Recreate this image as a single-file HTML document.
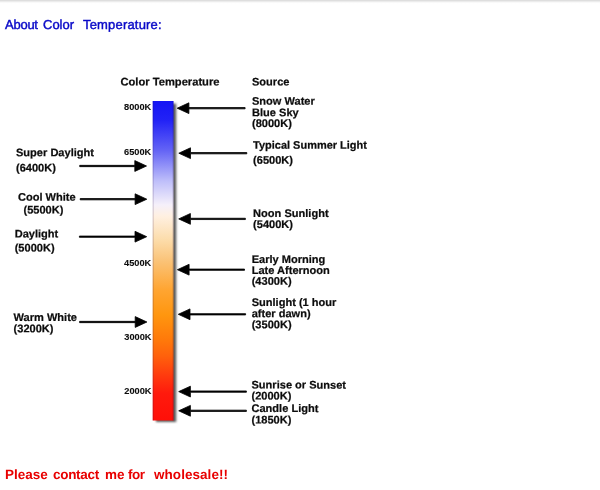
<!DOCTYPE html>
<html><head><meta charset="utf-8"><title>About Color Temperature</title>
<style>
html,body{margin:0;padding:0;background:#fff;}
body{width:600px;height:490px;position:relative;overflow:hidden;font-family:"Liberation Sans",Arial,sans-serif;}
.top{position:absolute;left:0;top:0;width:600px;height:4px;background:linear-gradient(#d9d9d9 0,#e2e2e2 0.9px,#f3f3f3 1.9px,#fcfcfc 2.8px,#fff 3.6px);}
.title span{position:absolute;top:16.5px;transform:matrix(1,0.0005,0,1,0,0);transform-origin:0 0;font-size:13px;line-height:15px;color:#0a0ac8;white-space:pre;-webkit-text-stroke:0.45px #0a0ac8;}
.bottom span{position:absolute;top:467.2px;transform:matrix(1,0.0005,0,1,0,0);transform-origin:0 0;font-size:13.5px;line-height:15px;color:#e80000;font-weight:bold;white-space:pre;}
svg{position:absolute;left:0;top:0;}
svg .sm text{stroke-width:0.1px;}
svg text{font-family:"Liberation Sans",Arial,sans-serif;font-weight:bold;fill:#0c0c0c;stroke:#0c0c0c;stroke-width:0.22px;}
</style></head><body>
<div class="top"></div>
<div class="title"><span style="left:4.5px;letter-spacing:-0.25px">About</span><span style="left:43px">Color</span><span style="left:83px;letter-spacing:0.18px">Temperature:</span></div>
<svg width="600" height="490" viewBox="0 0 600 490">
<defs>
<linearGradient id="g" x1="0" y1="0" x2="0" y2="1" gradientUnits="objectBoundingBox">
<stop offset="0" stop-color="#1414f5"/>
<stop offset="0.06" stop-color="#2222f6"/>
<stop offset="0.155" stop-color="#6464f5"/>
<stop offset="0.25" stop-color="#bebefa"/>
<stop offset="0.325" stop-color="#f5f0fa"/>
<stop offset="0.36" stop-color="#fff0e1"/>
<stop offset="0.435" stop-color="#fcdcaa"/>
<stop offset="0.50" stop-color="#fac378"/>
<stop offset="0.59" stop-color="#ffa532"/>
<stop offset="0.67" stop-color="#ff960f"/>
<stop offset="0.75" stop-color="#ff780a"/>
<stop offset="0.80" stop-color="#ff600c"/>
<stop offset="0.86" stop-color="#ff3a0e"/>
<stop offset="0.915" stop-color="#ff1a0d"/>
<stop offset="1" stop-color="#ff0f08"/>
</linearGradient>
<linearGradient id="sh" x1="0" y1="0" x2="1" y2="0">
<stop offset="0" stop-color="#5e5e5e"/><stop offset="0.38" stop-color="#6e6e6e"/><stop offset="0.62" stop-color="#b0b0b0"/><stop offset="0.82" stop-color="#e2e2e2"/><stop offset="1" stop-color="#ffffff"/>
</linearGradient>
<linearGradient id="shb" x1="0" y1="0" x2="0" y2="1">
<stop offset="0" stop-color="#4a4a4a"/><stop offset="0.45" stop-color="#8a8a8a"/><stop offset="1" stop-color="#f4f4f4"/>
</linearGradient>
<filter id="bl" x="-30%" y="-5%" width="160%" height="110%"><feGaussianBlur stdDeviation="0.9"/></filter>
</defs>
<rect x="156" y="103.6" width="20.2" height="318.4" fill="#5a5a5a" filter="url(#bl)"/>
<rect x="152.7" y="101" width="20.8" height="319.5" fill="url(#g)"/>
<rect x="152.7" y="101" width="0.9" height="319.5" fill="#200040" fill-opacity="0.22"/>
<rect x="172.6" y="101" width="0.9" height="319.5" fill="#200040" fill-opacity="0.22"/>
<g fill="#000" stroke="#000" stroke-width="0.8" stroke-linejoin="round">
<path d="M79.70 165.35H134.80V160.60L146.50 166L134.80 171.40V166.65H79.70Z"/>
<path d="M80.20 198.55H135.10V193.80L146.80 199.2L135.10 204.60V199.85H80.20Z"/>
<path d="M79.40 236.05H135.00V231.30L146.70 236.7L135.00 242.10V237.35H79.40Z"/>
<path d="M79.60 321.35H135.20V316.60L146.90 322L135.20 327.40V322.65H79.60Z"/>
<path d="M245.10 107.55H188.90V102.80L177.20 108.2L188.90 113.60V108.85H245.10Z"/>
<path d="M246.80 152.55H190.50V147.80L178.80 153.2L190.50 158.60V153.85H246.80Z"/>
<path d="M245.40 218.25H190.40V213.50L178.70 218.9L190.40 224.30V219.55H245.40Z"/>
<path d="M244.50 269.05H189.10V264.30L177.40 269.7L189.10 275.10V270.35H244.50Z"/>
<path d="M245.60 313.65H190.00V308.90L178.30 314.3L190.00 319.70V314.95H245.60Z"/>
<path d="M246.40 390.95H190.40V386.20L178.70 391.6L190.40 397.00V392.25H246.40Z"/>
<path d="M246.40 410.15H190.40V405.40L178.70 410.8L190.40 416.20V411.45H246.40Z"/>
</g>
<g transform="matrix(1 0.0005 0 1 0 0)">
<g font-size="11.05">
<text x="120.5" y="85.34" font-size="11.17">Color Temperature</text>
<text x="252" y="85.27">Source</text>
<text x="252" y="104.67">Snow Water</text>
<text x="252" y="116.17">Blue Sky</text>
<text x="252" y="126.77">(8000K)</text>
<text x="253.1" y="148.67" font-size="10.97">Typical Summer Light</text>
<text x="253.1" y="163.67">(6500K)</text>
<text x="253.1" y="216.87">Noon Sunlight</text>
<text x="253.1" y="227.87">(5400K)</text>
<text x="251.7" y="262.77">Early Morning</text>
<text x="251.7" y="273.77">Late Afternoon</text>
<text x="251.7" y="284.67">(4300K)</text>
<text x="251.7" y="305.87">Sunlight (1 hour</text>
<text x="251.7" y="317.17">after dawn)</text>
<text x="251.7" y="328.07">(3500K)</text>
<text x="251.5" y="388.47">Sunrise or Sunset</text>
<text x="251.5" y="399.37">(2000K)</text>
<text x="251.5" y="411.97">Candle Light</text>
<text x="251.5" y="423.27">(1850K)</text>
<text x="16" y="156.19">Super Daylight</text>
<text x="16" y="171.39">(6400K)</text>
<text x="18" y="200.69">Cool White</text>
<text x="23.5" y="213.49">(5500K)</text>
<text x="14.7" y="237.39">Daylight</text>
<text x="14.7" y="251.49">(5000K)</text>
<text x="13.6" y="320.99">Warm White</text>
<text x="13.6" y="332.29">(3200K)</text>
</g>
<g class="sm" font-size="9.9">
<text transform="translate(124.1 109.54) scale(0.933 1)">8000K</text>
<text transform="translate(124.1 154.54) scale(0.933 1)">6500K</text>
<text transform="translate(124.1 266.24) scale(0.933 1)">4500K</text>
<text transform="translate(124.3 339.54) scale(0.933 1)">3000K</text>
<text transform="translate(124.3 393.74) scale(0.933 1)">2000K</text>
</g>
</g>
</svg>
<div class="bottom"><span style="left:4.6px">Please</span><span style="left:53.2px;letter-spacing:-0.3px">contact</span><span style="left:104.6px">me</span><span style="left:128.4px;letter-spacing:-0.5px">for</span><span style="left:154.3px;letter-spacing:0.05px">wholesale!!</span></div>
</body></html>
